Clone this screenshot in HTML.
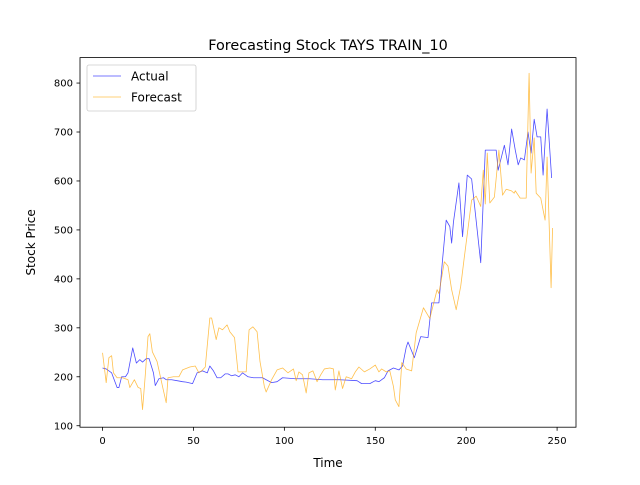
<!DOCTYPE html>
<html><head><meta charset="utf-8"><style>
html,body{margin:0;padding:0;background:#fff;}
svg text{font-family:"DejaVu Sans","Liberation Sans",sans-serif;fill:#000;}
</style></head><body>
<svg id="chart" width="640" height="480" xmlns="http://www.w3.org/2000/svg">
<rect width="640" height="480" fill="#fff"/>
<text x="328" y="50" font-size="14.4" text-anchor="middle">Forecasting Stock TAYS TRAIN_10</text>
<g id="plot"></g>
<rect x="80" y="57.6" width="496" height="369.6" fill="none" stroke="#000" stroke-width="0.8"/>
<g id="xticks"></g>
<g id="yticks"></g>
<text x="328" y="467" font-size="12" text-anchor="middle">Time</text>
<text transform="translate(35,242.4) rotate(-90)" font-size="12" text-anchor="middle">Stock Price</text>
<g>
<rect x="87" y="65" width="109" height="46" rx="2" fill="#fff" fill-opacity="0.8" stroke="#ccc" stroke-width="0.8"/>
<line x1="93" y1="76" x2="121" y2="76" stroke="#0000ff" stroke-opacity="0.7" stroke-width="0.8"/>
<text x="131" y="80.5" font-size="12">Actual</text>
<line x1="93" y1="97" x2="121" y2="97" stroke="#ffa500" stroke-opacity="0.7" stroke-width="0.8"/>
<text x="131" y="101.5" font-size="12">Forecast</text>
</g>
</svg>
<script>
const actualT=[0,2,5,8,9,10.5,12.6,14,16.6,18.6,20.5,22,24,25.6,28,29,31,33.5,35,38,41,44,46,49.5,52,55,57.6,59,61,63,65,67.5,69,71,73,75,77,80,83,88,90,93,96,99,106,114,121,130.5,140,142.5,147,150,152,155,157,160,163,165,167,168,171.5,175,179,181,185,187,189,191,192,193,196,198,200.6,203,208,210.5,216.5,217.6,221,223,225,227,228.6,230,232,234,235.7,237.4,239,241,242.3,244.5,247];
const actualV=[218,216,208,178,178,200,200,208,259,228,235,230,237,237,208,182,196,198,194,194,192,190,189,186,208,212,208,222,212,198,198,206,206,202,204,200,208,200,198,198,194,188,190,198,196,196,194,194,192,186,186,192,190,198,212,218,214,222,260,271,239,282,280,351,351,439,520,507,473,516,596,486,612,604,433,663,663,622,673,633,706,663,633,647,643,700,657,726,690,690,612,747,606];
const forecastT=[0,2,3.5,5,6,8,11,14,15,17.5,19.6,21,22,23.6,25,26,27.4,30,33,35,36,39,42,44,48,51,53,55,56.5,59,60,62.5,64,66,68.5,70,72.6,74.5,77,79,80.6,82.7,85,86.6,89,90,93,96,99,102,105,106.5,108,110,112,113.5,115.7,118,120,122,125,127,128,130,132,134,137,139,141,144,147,150,152,153.5,156,158,160,161,163,164.6,167,170,172.5,176.5,180,184,185,188,190,192,194.5,197,199,200.7,203,205.5,208,209.4,210.5,211.6,213,215.5,218,220,222,224.8,226.4,227,229.7,233,234.6,235.7,237.4,238.5,241,243.4,244.5,246.7,247.5];
const forecastV=[249,188,239,243,208,198,198,194,178,194,178,176,133,208,282,288,251,231,180,147,198,200,200,214,220,222,208,214,220,320,320,276,300,296,306,292,280,210,210,210,296,302,292,231,180,169,194,214,218,208,216,192,210,204,167,208,212,190,204,216,218,216,173,212,176,200,196,210,220,210,216,224,210,216,210,212,180,153,139,229,216,212,290,341,319,378,370,435,426,378,337,385,445,494,561,569,548,622,553,657,555,567,663,571,583,580,575,580,565,565,820,616,688,575,565,520,649,382,504];
const xTicks=[0,50,100,150,200,250];
const yTicks=[100,200,300,400,500,600,700,800];
const X0=80,X1=576,Y0=427.2,Y1=57.6,xmin=-12.4,xmax=260.4,ymin=97,ymax=852;
const sx=v=>X0+(v-xmin)/(xmax-xmin)*(X1-X0);
const sy=v=>Y0-(v-ymin)/(ymax-ymin)*(Y0-Y1);
const NS="http://www.w3.org/2000/svg";
function mk(tag,attrs,parent){const e=document.createElementNS(NS,tag);for(const k in attrs)e.setAttribute(k,attrs[k]);parent.appendChild(e);return e;}
const plot=document.getElementById('plot');
const pa=mk('polyline',{points:actualT.map((t,i)=>sx(t)+','+sy(actualV[i])).join(' '),fill:'none',stroke:'#0000ff','stroke-opacity':0.7,'stroke-width':0.8,'stroke-linejoin':'round'},plot);


const pf=mk('polyline',{points:forecastT.map((t,i)=>sx(t)+','+sy(forecastV[i])).join(' '),fill:'none',stroke:'#ffa500','stroke-opacity':0.7,'stroke-width':0.8,'stroke-linejoin':'round'},plot);


const xg=document.getElementById('xticks');
xTicks.forEach(v=>{
  const l=mk('line',{x1:sx(v),x2:sx(v),y1:Y0,y2:Y0+3.5,stroke:'#000','stroke-width':0.8},xg);
  
  
  const t=mk('text',{x:sx(v),y:Y0+17,'font-size':10,'text-anchor':'middle'},xg);t.textContent=v;
  
  
});
const yg=document.getElementById('yticks');
yTicks.forEach(v=>{
  const l=mk('line',{x1:X0-3.5,x2:X0,y1:sy(v),y2:sy(v),stroke:'#000','stroke-width':0.8},yg);
  
  
  const t=mk('text',{x:X0-7,y:sy(v)+3.6,'font-size':10,'text-anchor':'end'},yg);t.textContent=v;
  
  
});
</script>
</body></html>
